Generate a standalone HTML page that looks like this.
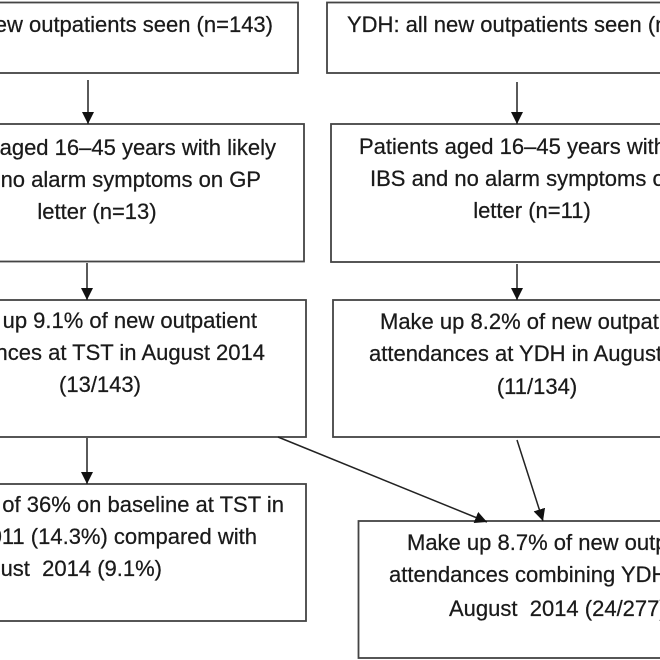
<!DOCTYPE html>
<html>
<head>
<meta charset="utf-8">
<style>
  html, body { margin: 0; padding: 0; background: #ffffff; }
  svg { display: block; }
  text { font-family: "Liberation Sans", Arial, sans-serif; font-size: 22px; fill: #1a1a1a; stroke: #1a1a1a; stroke-width: 0.25; white-space: pre; }
</style>
</head>
<body>
<svg width="660" height="660" viewBox="0 0 660 660" xmlns="http://www.w3.org/2000/svg">
  <defs>
    <marker id="ah" viewBox="0 0 12 12" refX="12" refY="6" markerWidth="12" markerHeight="12" markerUnits="userSpaceOnUse" orient="auto">
      <path d="M0,0 L12,6 L0,12 z" fill="#111"/>
    </marker>
  </defs>
  <rect x="0" y="0" width="660" height="660" fill="#ffffff"/>

  <g fill="none" stroke="#444" stroke-width="1.8">
    <!-- left column -->
    <rect x="-10" y="2.5" width="308" height="70.5"/>
    <rect x="-10" y="124" width="314" height="137.5"/>
    <rect x="-10" y="300" width="316" height="137"/>
    <rect x="-10" y="484" width="316" height="137"/>
    <!-- right column -->
    <rect x="327" y="2.5" width="343" height="70.5"/>
    <rect x="331" y="124" width="339" height="138"/>
    <rect x="333" y="300" width="337" height="137"/>
    <rect x="358.5" y="521" width="311" height="137"/>
  </g>

  <g stroke="#222" stroke-width="1.5" fill="none" marker-end="url(#ah)">
    <line x1="88" y1="80" x2="88" y2="124"/>
    <line x1="517" y1="82" x2="517" y2="124"/>
    <line x1="87" y1="263" x2="87" y2="300"/>
    <line x1="517" y1="264" x2="517" y2="300"/>
    <line x1="87" y1="438" x2="87" y2="484"/>
    <line x1="278" y1="437" x2="487" y2="522"/>
    <line x1="517" y1="440" x2="543" y2="521"/>
  </g>

  <!-- left column text -->
  <text x="273" y="32" text-anchor="end">TST: all new outpatients seen (n=143)</text>
  <text x="276" y="155" text-anchor="end">Patients aged 16–45 years with likely</text>
  <text x="261" y="187" text-anchor="end">IBS and no alarm symptoms on GP</text>
  <text x="97" y="219" text-anchor="middle">letter (n=13)</text>
  <text x="257" y="328" text-anchor="end">Make up 9.1% of new outpatient</text>
  <text x="265" y="360" text-anchor="end">attendances at TST in August 2014</text>
  <text x="100" y="392" text-anchor="middle">(13/143)</text>
  <text x="284" y="512" text-anchor="end">Reduction of 36% on baseline at TST in</text>
  <text x="257" y="544" text-anchor="end">2011 (14.3%) compared with</text>
  <text x="162" y="576" text-anchor="end">August  2014 (9.1%)</text>

  <!-- right column text -->
  <text x="347" y="32">YDH: all new outpatients seen (n=134)</text>
  <text x="359" y="154">Patients aged 16–45 years with likely</text>
  <text x="370" y="186">IBS and no alarm symptoms on GP</text>
  <text x="532" y="218" text-anchor="middle">letter (n=11)</text>
  <text x="380" y="329">Make up 8.2% of new outpatient</text>
  <text x="369" y="361">attendances at YDH in August 2014</text>
  <text x="537" y="394" text-anchor="middle">(11/134)</text>
  <text x="407" y="550">Make up 8.7% of new outpatient</text>
  <text x="389" y="582">attendances combining YDH and TST in</text>
  <text x="449" y="616">August  2014 (24/277)</text>
</svg>
</body>
</html>
